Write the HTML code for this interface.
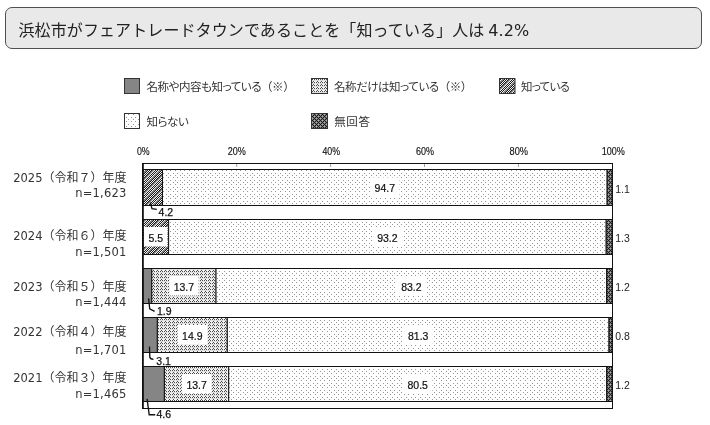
<!DOCTYPE html>
<html lang="ja">
<head>
<meta charset="utf-8">
<style>
html,body{margin:0;padding:0;background:#fff;}
body{width:710px;height:425px;position:relative;overflow:hidden;font-family:"Liberation Sans","Noto Sans CJK JP",sans-serif;color:#222;}
.title{position:absolute;left:5px;top:7px;width:695px;height:40px;border:1px solid #505050;border-radius:7px;background:#e9e9e9;}
.title span.t{position:absolute;left:12.5px;top:9.7px;font-size:16px;line-height:22px;white-space:nowrap;color:#222;font-family:"Noto Sans CJK JP",sans-serif;letter-spacing:0.1px;}
.lat{font-family:"DejaVu Sans","Liberation Sans",sans-serif;}
.lg{position:absolute;font-size:11.5px;letter-spacing:-0.45px;line-height:14px;white-space:nowrap;color:#333;font-family:"Noto Sans CJK JP",sans-serif;font-feature-settings:"palt";}
.np{font-feature-settings:normal;}
.rl{position:absolute;right:583.5px;font-size:12px;line-height:13.5px;white-space:nowrap;text-align:right;color:#333;font-family:"Noto Sans CJK JP",sans-serif;}
.rl .lat{font-size:11.5px;}
.rl .n2{letter-spacing:0.2px;}
svg{position:absolute;left:0;top:0;}
svg text{font-family:"Liberation Sans",sans-serif;font-size:10.5px;fill:#222;}
svg text.vc{text-anchor:middle;fill:#111;stroke:#111;stroke-width:0.2px;}
svg text.vl{fill:#111;stroke:#111;stroke-width:0.25px;}
svg text.ax{text-anchor:middle;fill:#111;stroke:#111;stroke-width:0.15px;}
</style>
</head>
<body>
<div class="title"><span class="t">浜松市がフェアトレードタウンであることを「知っている」人は<span class="lat" style="margin-left:-1.3px"> 4.2%</span></span></div>
<svg width="710" height="425" viewBox="0 0 710 425">
<defs>
<pattern id="pSolid" width="4" height="4" patternUnits="userSpaceOnUse"><rect width="4" height="4" fill="#858585"/></pattern>
<pattern id="pZig" width="4" height="3" patternUnits="userSpaceOnUse" shape-rendering="crispEdges"><rect width="4" height="3" fill="#f4f4f4"/><rect x="1" y="0" width="1" height="1" fill="#4a4a4a"/><rect x="0" y="1" width="1" height="1" fill="#4a4a4a"/><rect x="2" y="1" width="1" height="1" fill="#4a4a4a"/><rect x="0" y="2" width="4" height="1" fill="#dedede"/></pattern>
<pattern id="pHatch" width="14" height="14" patternUnits="userSpaceOnUse" shape-rendering="crispEdges"><rect width="14" height="14" fill="#f2f2f2"/><rect x="0" y="0" width="1" height="1" fill="#737373"/><rect x="1" y="0" width="1" height="1" fill="#8f8f8f"/><rect x="3" y="0" width="1" height="1" fill="#1a1a1a"/><rect x="5" y="0" width="1" height="1" fill="#1a1a1a"/><rect x="7" y="0" width="1" height="1" fill="#737373"/><rect x="8" y="0" width="1" height="1" fill="#8f8f8f"/><rect x="9" y="0" width="1" height="1" fill="#1a1a1a"/><rect x="11" y="0" width="1" height="1" fill="#1a1a1a"/><rect x="13" y="0" width="1" height="1" fill="#1a1a1a"/><rect x="0" y="1" width="1" height="1" fill="#8f8f8f"/><rect x="2" y="1" width="1" height="1" fill="#1a1a1a"/><rect x="4" y="1" width="1" height="1" fill="#1a1a1a"/><rect x="6" y="1" width="1" height="1" fill="#737373"/><rect x="7" y="1" width="1" height="1" fill="#8f8f8f"/><rect x="8" y="1" width="1" height="1" fill="#1a1a1a"/><rect x="10" y="1" width="1" height="1" fill="#1a1a1a"/><rect x="12" y="1" width="1" height="1" fill="#1a1a1a"/><rect x="13" y="1" width="1" height="1" fill="#737373"/><rect x="1" y="2" width="1" height="1" fill="#1a1a1a"/><rect x="3" y="2" width="1" height="1" fill="#1a1a1a"/><rect x="5" y="2" width="1" height="1" fill="#737373"/><rect x="6" y="2" width="1" height="1" fill="#8f8f8f"/><rect x="7" y="2" width="1" height="1" fill="#1a1a1a"/><rect x="9" y="2" width="1" height="1" fill="#1a1a1a"/><rect x="11" y="2" width="1" height="1" fill="#1a1a1a"/><rect x="12" y="2" width="1" height="1" fill="#737373"/><rect x="13" y="2" width="1" height="1" fill="#8f8f8f"/><rect x="0" y="3" width="1" height="1" fill="#1a1a1a"/><rect x="2" y="3" width="1" height="1" fill="#1a1a1a"/><rect x="4" y="3" width="1" height="1" fill="#737373"/><rect x="5" y="3" width="1" height="1" fill="#8f8f8f"/><rect x="6" y="3" width="1" height="1" fill="#1a1a1a"/><rect x="8" y="3" width="1" height="1" fill="#1a1a1a"/><rect x="10" y="3" width="1" height="1" fill="#1a1a1a"/><rect x="11" y="3" width="1" height="1" fill="#737373"/><rect x="12" y="3" width="1" height="1" fill="#8f8f8f"/><rect x="1" y="4" width="1" height="1" fill="#1a1a1a"/><rect x="3" y="4" width="1" height="1" fill="#737373"/><rect x="4" y="4" width="1" height="1" fill="#8f8f8f"/><rect x="5" y="4" width="1" height="1" fill="#1a1a1a"/><rect x="7" y="4" width="1" height="1" fill="#1a1a1a"/><rect x="9" y="4" width="1" height="1" fill="#1a1a1a"/><rect x="10" y="4" width="1" height="1" fill="#737373"/><rect x="11" y="4" width="1" height="1" fill="#8f8f8f"/><rect x="13" y="4" width="1" height="1" fill="#1a1a1a"/><rect x="0" y="5" width="1" height="1" fill="#1a1a1a"/><rect x="2" y="5" width="1" height="1" fill="#737373"/><rect x="3" y="5" width="1" height="1" fill="#8f8f8f"/><rect x="4" y="5" width="1" height="1" fill="#1a1a1a"/><rect x="6" y="5" width="1" height="1" fill="#1a1a1a"/><rect x="8" y="5" width="1" height="1" fill="#1a1a1a"/><rect x="9" y="5" width="1" height="1" fill="#737373"/><rect x="10" y="5" width="1" height="1" fill="#8f8f8f"/><rect x="12" y="5" width="1" height="1" fill="#1a1a1a"/><rect x="1" y="6" width="1" height="1" fill="#737373"/><rect x="2" y="6" width="1" height="1" fill="#8f8f8f"/><rect x="3" y="6" width="1" height="1" fill="#1a1a1a"/><rect x="5" y="6" width="1" height="1" fill="#1a1a1a"/><rect x="7" y="6" width="1" height="1" fill="#1a1a1a"/><rect x="8" y="6" width="1" height="1" fill="#737373"/><rect x="9" y="6" width="1" height="1" fill="#8f8f8f"/><rect x="11" y="6" width="1" height="1" fill="#1a1a1a"/><rect x="13" y="6" width="1" height="1" fill="#1a1a1a"/><rect x="0" y="7" width="1" height="1" fill="#737373"/><rect x="1" y="7" width="1" height="1" fill="#8f8f8f"/><rect x="2" y="7" width="1" height="1" fill="#1a1a1a"/><rect x="4" y="7" width="1" height="1" fill="#1a1a1a"/><rect x="6" y="7" width="1" height="1" fill="#1a1a1a"/><rect x="7" y="7" width="1" height="1" fill="#737373"/><rect x="8" y="7" width="1" height="1" fill="#8f8f8f"/><rect x="10" y="7" width="1" height="1" fill="#1a1a1a"/><rect x="12" y="7" width="1" height="1" fill="#1a1a1a"/><rect x="0" y="8" width="1" height="1" fill="#8f8f8f"/><rect x="1" y="8" width="1" height="1" fill="#1a1a1a"/><rect x="3" y="8" width="1" height="1" fill="#1a1a1a"/><rect x="5" y="8" width="1" height="1" fill="#1a1a1a"/><rect x="6" y="8" width="1" height="1" fill="#737373"/><rect x="7" y="8" width="1" height="1" fill="#8f8f8f"/><rect x="9" y="8" width="1" height="1" fill="#1a1a1a"/><rect x="11" y="8" width="1" height="1" fill="#1a1a1a"/><rect x="13" y="8" width="1" height="1" fill="#737373"/><rect x="0" y="9" width="1" height="1" fill="#1a1a1a"/><rect x="2" y="9" width="1" height="1" fill="#1a1a1a"/><rect x="4" y="9" width="1" height="1" fill="#1a1a1a"/><rect x="5" y="9" width="1" height="1" fill="#737373"/><rect x="6" y="9" width="1" height="1" fill="#8f8f8f"/><rect x="8" y="9" width="1" height="1" fill="#1a1a1a"/><rect x="10" y="9" width="1" height="1" fill="#1a1a1a"/><rect x="12" y="9" width="1" height="1" fill="#737373"/><rect x="13" y="9" width="1" height="1" fill="#8f8f8f"/><rect x="1" y="10" width="1" height="1" fill="#1a1a1a"/><rect x="3" y="10" width="1" height="1" fill="#1a1a1a"/><rect x="4" y="10" width="1" height="1" fill="#737373"/><rect x="5" y="10" width="1" height="1" fill="#8f8f8f"/><rect x="7" y="10" width="1" height="1" fill="#1a1a1a"/><rect x="9" y="10" width="1" height="1" fill="#1a1a1a"/><rect x="11" y="10" width="1" height="1" fill="#737373"/><rect x="12" y="10" width="1" height="1" fill="#8f8f8f"/><rect x="13" y="10" width="1" height="1" fill="#1a1a1a"/><rect x="0" y="11" width="1" height="1" fill="#1a1a1a"/><rect x="2" y="11" width="1" height="1" fill="#1a1a1a"/><rect x="3" y="11" width="1" height="1" fill="#737373"/><rect x="4" y="11" width="1" height="1" fill="#8f8f8f"/><rect x="6" y="11" width="1" height="1" fill="#1a1a1a"/><rect x="8" y="11" width="1" height="1" fill="#1a1a1a"/><rect x="10" y="11" width="1" height="1" fill="#737373"/><rect x="11" y="11" width="1" height="1" fill="#8f8f8f"/><rect x="12" y="11" width="1" height="1" fill="#1a1a1a"/><rect x="1" y="12" width="1" height="1" fill="#1a1a1a"/><rect x="2" y="12" width="1" height="1" fill="#737373"/><rect x="3" y="12" width="1" height="1" fill="#8f8f8f"/><rect x="5" y="12" width="1" height="1" fill="#1a1a1a"/><rect x="7" y="12" width="1" height="1" fill="#1a1a1a"/><rect x="9" y="12" width="1" height="1" fill="#737373"/><rect x="10" y="12" width="1" height="1" fill="#8f8f8f"/><rect x="11" y="12" width="1" height="1" fill="#1a1a1a"/><rect x="13" y="12" width="1" height="1" fill="#1a1a1a"/><rect x="0" y="13" width="1" height="1" fill="#1a1a1a"/><rect x="1" y="13" width="1" height="1" fill="#737373"/><rect x="2" y="13" width="1" height="1" fill="#8f8f8f"/><rect x="4" y="13" width="1" height="1" fill="#1a1a1a"/><rect x="6" y="13" width="1" height="1" fill="#1a1a1a"/><rect x="8" y="13" width="1" height="1" fill="#737373"/><rect x="9" y="13" width="1" height="1" fill="#8f8f8f"/><rect x="10" y="13" width="1" height="1" fill="#1a1a1a"/><rect x="12" y="13" width="1" height="1" fill="#1a1a1a"/></pattern>
<pattern id="pDot" width="14" height="14" patternUnits="userSpaceOnUse" shape-rendering="crispEdges"><rect width="14" height="14" fill="#ffffff"/><rect x="0" y="0" width="1" height="1" fill="#969696"/><rect x="5" y="0" width="1" height="1" fill="#969696"/><rect x="9" y="0" width="1" height="1" fill="#969696"/><rect x="2" y="2" width="1" height="1" fill="#969696"/><rect x="7" y="2" width="1" height="1" fill="#969696"/><rect x="12" y="2" width="1" height="1" fill="#969696"/><rect x="0" y="5" width="1" height="1" fill="#969696"/><rect x="5" y="5" width="1" height="1" fill="#969696"/><rect x="9" y="5" width="1" height="1" fill="#969696"/><rect x="2" y="7" width="1" height="1" fill="#969696"/><rect x="7" y="7" width="1" height="1" fill="#969696"/><rect x="12" y="7" width="1" height="1" fill="#969696"/><rect x="0" y="9" width="1" height="1" fill="#969696"/><rect x="5" y="9" width="1" height="1" fill="#969696"/><rect x="9" y="9" width="1" height="1" fill="#969696"/><rect x="2" y="12" width="1" height="1" fill="#969696"/><rect x="7" y="12" width="1" height="1" fill="#969696"/><rect x="12" y="12" width="1" height="1" fill="#969696"/></pattern>
<pattern id="pCross" width="4" height="4" patternUnits="userSpaceOnUse" shape-rendering="crispEdges"><rect width="4" height="4" fill="#555"/><rect x="0" y="0" width="1" height="1" fill="#1a1a1a"/><rect x="1" y="0" width="1" height="1" fill="#7a7a7a"/><rect x="2" y="0" width="1" height="1" fill="#b0b0b0"/><rect x="3" y="0" width="1" height="1" fill="#7a7a7a"/><rect x="0" y="1" width="1" height="1" fill="#7a7a7a"/><rect x="1" y="1" width="1" height="1" fill="#1a1a1a"/><rect x="2" y="1" width="1" height="1" fill="#7a7a7a"/><rect x="3" y="1" width="1" height="1" fill="#1a1a1a"/><rect x="0" y="2" width="1" height="1" fill="#b0b0b0"/><rect x="1" y="2" width="1" height="1" fill="#7a7a7a"/><rect x="2" y="2" width="1" height="1" fill="#1a1a1a"/><rect x="3" y="2" width="1" height="1" fill="#7a7a7a"/><rect x="0" y="3" width="1" height="1" fill="#7a7a7a"/><rect x="1" y="3" width="1" height="1" fill="#1a1a1a"/><rect x="2" y="3" width="1" height="1" fill="#7a7a7a"/><rect x="3" y="3" width="1" height="1" fill="#1a1a1a"/></pattern>
</defs>
<g stroke="#333" stroke-width="1">
<rect x="124.5" y="78.5" width="15" height="15" fill="url(#pSolid)"/>
<rect x="311.5" y="78.5" width="16" height="15" fill="url(#pZig)"/>
<rect x="499.5" y="78.5" width="15.5" height="15" fill="url(#pHatch)"/>
<rect x="124.5" y="113.5" width="15" height="15" fill="url(#pDot)"/>
<rect x="311.5" y="113.5" width="16" height="15" fill="url(#pCross)"/>
</g>
<g id="chart">
<rect x="142.5" y="163.5" width="470" height="245" fill="#fff" stroke="#111" stroke-width="1"/>
<line x1="236.7" y1="164" x2="236.7" y2="167" stroke="#888" stroke-width="0.8"/>
<line x1="330.6" y1="164" x2="330.6" y2="167" stroke="#888" stroke-width="0.8"/>
<line x1="424.5" y1="164" x2="424.5" y2="167" stroke="#888" stroke-width="0.8"/>
<line x1="518.4" y1="164" x2="518.4" y2="167" stroke="#888" stroke-width="0.8"/>
<rect x="142.80" y="169.5" width="19.72" height="36.0" fill="url(#pHatch)" stroke="#111" stroke-width="1"/>
<rect x="162.52" y="169.5" width="444.62" height="36.0" fill="url(#pDot)" stroke="#111" stroke-width="1"/>
<rect x="607.14" y="169.5" width="5.16" height="36.0" fill="url(#pCross)" stroke="#111" stroke-width="1"/>
<rect x="142.80" y="219.5" width="25.82" height="35.0" fill="url(#pHatch)" stroke="#111" stroke-width="1"/>
<rect x="168.62" y="219.5" width="437.57" height="35.0" fill="url(#pDot)" stroke="#111" stroke-width="1"/>
<rect x="606.20" y="219.5" width="6.10" height="35.0" fill="url(#pCross)" stroke="#111" stroke-width="1"/>
<rect x="142.80" y="268.5" width="8.92" height="35.0" fill="url(#pSolid)" stroke="#111" stroke-width="1"/>
<rect x="151.72" y="268.5" width="64.32" height="35.0" fill="url(#pZig)" stroke="#111" stroke-width="1"/>
<rect x="216.04" y="268.5" width="390.62" height="35.0" fill="url(#pDot)" stroke="#111" stroke-width="1"/>
<rect x="606.67" y="268.5" width="5.63" height="35.0" fill="url(#pCross)" stroke="#111" stroke-width="1"/>
<rect x="142.80" y="317.5" width="14.55" height="35.0" fill="url(#pSolid)" stroke="#111" stroke-width="1"/>
<rect x="157.35" y="317.5" width="69.96" height="35.0" fill="url(#pZig)" stroke="#111" stroke-width="1"/>
<rect x="227.31" y="317.5" width="381.70" height="35.0" fill="url(#pDot)" stroke="#111" stroke-width="1"/>
<rect x="609.01" y="317.5" width="3.29" height="35.0" fill="url(#pCross)" stroke="#111" stroke-width="1"/>
<rect x="142.80" y="366.5" width="21.60" height="35.0" fill="url(#pSolid)" stroke="#111" stroke-width="1"/>
<rect x="164.40" y="366.5" width="64.32" height="35.0" fill="url(#pZig)" stroke="#111" stroke-width="1"/>
<rect x="228.72" y="366.5" width="377.95" height="35.0" fill="url(#pDot)" stroke="#111" stroke-width="1"/>
<rect x="606.67" y="366.5" width="5.63" height="35.0" fill="url(#pCross)" stroke="#111" stroke-width="1"/>
<path d="M150.3,202.5 L152,208.7 L156.8,209.3" stroke="#111" stroke-width="1.35" fill="none"/>
<text x="158.6" y="216.2" class="vl">4.2</text>
<rect x="370.1" y="177.5" width="29.4" height="19.5" fill="#fff"/>
<text x="384.8" y="192.3" class="vc">94.7</text>
<text x="615.2" y="192.9" class="vr">1.1</text>
<rect x="143.9" y="227.0" width="23.6" height="19.5" fill="#fff"/>
<text x="155.7" y="241.8" class="vc">5.5</text>
<rect x="372.7" y="227.0" width="29.4" height="19.5" fill="#fff"/>
<text x="387.4" y="241.8" class="vc">93.2</text>
<text x="615.2" y="242.4" class="vr">1.3</text>
<path d="M148.6,298.4 L149.7,308.8 L154.6,311.4" stroke="#111" stroke-width="1.35" fill="none"/>
<text x="156.9" y="314.6" class="vl">1.9</text>
<rect x="169.2" y="276.0" width="29.4" height="19.5" fill="#fff"/>
<text x="183.9" y="290.8" class="vc">13.7</text>
<rect x="396.6" y="276.0" width="29.4" height="19.5" fill="#fff"/>
<text x="411.4" y="290.8" class="vc">83.2</text>
<text x="615.2" y="291.4" class="vr">1.2</text>
<path d="M149.5,346.4 L149.8,357.1 Q150,359 153.5,359.4" stroke="#111" stroke-width="1.35" fill="none"/>
<text x="156.3" y="364.6" class="vl">3.1</text>
<rect x="177.6" y="325.0" width="29.4" height="19.5" fill="#fff"/>
<text x="192.3" y="339.8" class="vc">14.9</text>
<rect x="403.4" y="325.0" width="29.4" height="19.5" fill="#fff"/>
<text x="418.2" y="339.8" class="vc">81.3</text>
<text x="615.2" y="340.4" class="vr">0.8</text>
<path d="M147.1,398.9 L149.2,414.75 L155.2,414.75" stroke="#111" stroke-width="1.35" fill="none"/>
<text x="156.4" y="418.2" class="vl">4.6</text>
<rect x="181.8" y="374.0" width="29.4" height="19.5" fill="#fff"/>
<text x="196.6" y="388.8" class="vc">13.7</text>
<rect x="403.0" y="374.0" width="29.4" height="19.5" fill="#fff"/>
<text x="417.7" y="388.8" class="vc">80.5</text>
<text x="615.2" y="389.4" class="vr">1.2</text>
<line x1="143" y1="163" x2="143" y2="409" stroke="#111" stroke-width="1.6"/>
<text x="143.25" y="154.6" class="ax" textLength="12.7" lengthAdjust="spacingAndGlyphs">0%</text>
<text x="236.85" y="154.6" class="ax" textLength="18.1" lengthAdjust="spacingAndGlyphs">20%</text>
<text x="331.2" y="154.6" class="ax" textLength="17.6" lengthAdjust="spacingAndGlyphs">40%</text>
<text x="425.1" y="154.6" class="ax" textLength="18.0" lengthAdjust="spacingAndGlyphs">60%</text>
<text x="518.75" y="154.6" class="ax" textLength="18.5" lengthAdjust="spacingAndGlyphs">80%</text>
<text x="613.25" y="154.6" class="ax" textLength="23.1" lengthAdjust="spacingAndGlyphs">100%</text>
</g>
</svg>
<div class="lg" style="left:146.5px;top:78.5px;">名称や内容も知っている<span class="np">（※）</span></div>
<div class="lg" style="left:334px;top:78.5px;">名称だけは知っている<span class="np">（※）</span></div>
<div class="lg" style="left:521px;top:78.5px;letter-spacing:-0.75px;">知っている</div>
<div class="lg" style="left:146.5px;top:114px;">知らない</div>
<div class="lg" style="left:334.2px;top:114px;letter-spacing:0.6px;">無回答</div>
<div class="rl" style="top:169.75px;"><span class="lat">2025</span>（令和７）年度</div><div class="rl" style="top:185.25px;"><span class="lat n2">n=1,623</span></div>
<div class="rl" style="top:227.95px;"><span class="lat">2024</span>（令和６）年度</div><div class="rl" style="top:244.25px;"><span class="lat n2">n=1,501</span></div>
<div class="rl" style="top:279.05px;"><span class="lat">2023</span>（令和５）年度</div><div class="rl" style="top:294.35px;"><span class="lat n2">n=1,444</span></div>
<div class="rl" style="top:324.35px;"><span class="lat">2022</span>（令和４）年度</div><div class="rl" style="top:342.15px;"><span class="lat n2">n=1,701</span></div>
<div class="rl" style="top:370.05px;"><span class="lat">2021</span>（令和３）年度</div><div class="rl" style="top:386.35px;"><span class="lat n2">n=1,465</span></div>
</body>
</html>
